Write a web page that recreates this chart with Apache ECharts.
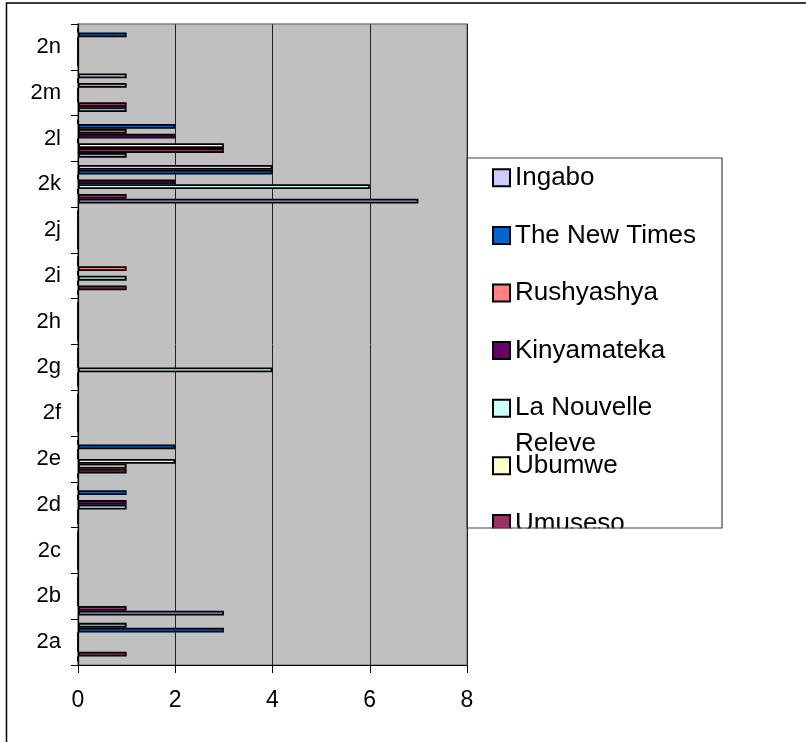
<!DOCTYPE html>
<html><head><meta charset="utf-8">
<script src="https://cdn.jsdelivr.net/npm/echarts@6/dist/echarts.min.js"></script>
<style>html,body{margin:0;padding:0;background:#fff}#c{width:806px;height:742px}</style>
</head><body><div id="c"></div>
<script>
const categories = ['2a','2b','2c','2d','2e','2f','2g','2h','2i','2j','2k','2l','2m','2n'];
const xTicks = [0, 2, 4, 6, 8];
// series values per category (2a .. 2n)
const ingabo       = [1,0,0,0,0,0,0,0,0,0,4,0,1,0];
const newTimes     = [3,0,0,1,2,0,0,0,0,0,4,2,0,1];
const rushyashya   = [0,0,0,0,0,0,0,0,1,0,0,1,1,0];
const kinyamateka  = [0,0,0,1,0,0,0,0,0,0,2,2,0,0];
const laNouvelle   = [0,0,0,1,2,0,4,0,1,0,6,0,0,0];
const ubumwe       = [0,0,0,0,1,0,0,0,0,0,0,3,0,0];
const umuseso      = [1,1,0,0,1,0,0,0,1,0,1,3,1,0];
const unnamedSeries = [0,3,0,0,0,0,0,0,0,0,7,1,1,0];

// ECharts draws the first series at the top of each group
const names  = ['Ingabo','The New Times','Rushyashya','Kinyamateka','La Nouvelle Releve','Ubumwe','Umuseso','Imvaho Nshya'];
const values = [ingabo, newTimes, rushyashya, kinyamateka, laNouvelle, ubumwe, umuseso, unnamedSeries];
const colors = ['#CCCCFF','#0066CC','#FF8080','#660066','#CCFFFF','#FFFFCC','#993366','#9999FF'];
const legendNames = ['Ingabo','The New Times','Rushyashya','Kinyamateka','La Nouvelle Releve','Ubumwe','Umuseso'];

const FONT = '"Liberation Sans", Arial, sans-serif';
const chart = echarts.init(document.getElementById('c'));
chart.setOption({
  animation: false,
  backgroundColor: '#fff',
  grid: { left: 78, right: 339, top: 24, bottom: 77, show: true, backgroundColor: '#C0C0C0', borderColor: '#808080', borderWidth: 1.5 },
  xAxis: {
    type: 'value', min: xTicks[0], max: xTicks[xTicks.length-1], interval: 2,
    axisLine: { show: true, lineStyle: { color: '#000', width: 1.2 } },
    axisTick: { show: true, length: 8, lineStyle: { color: '#000' } },
    axisLabel: { fontSize: 23, color: '#000', fontFamily: FONT, margin: 24 },
    splitLine: { show: true, lineStyle: { color: '#222', width: 1 } }
  },
  yAxis: {
    type: 'category', data: categories,
    axisLine: { show: true, lineStyle: { color: '#000', width: 1.2 } },
    axisTick: { show: true, length: 7, lineStyle: { color: '#000' } },
    axisLabel: { fontSize: 22, color: '#000', fontFamily: FONT, margin: 17 },
    splitLine: { show: false }
  },
  legend: {
    orient: 'vertical', left: 492, top: 149, padding: 0, itemGap: 0,
    itemWidth: 17, itemHeight: 17, icon: 'rect',
    data: legendNames,
    itemStyle: { borderColor: '#000', borderWidth: 2 },
    formatter: function (n) { return n === 'La Nouvelle Releve' ? 'La Nouvelle' : n; },
    textStyle: { fontSize: 26, color: '#000', fontFamily: FONT, lineHeight: 57.6 }
  },
  graphic: [
    { type: 'text', z: 50, x: 515, y: 444, style: { text: 'Releve', fontSize: 26, fontFamily: FONT, fill: '#000', verticalAlign: 'middle' } },
    { type: 'rect', z: 100, shape: { x: 468, y: 528.5, width: 256, height: 40 }, style: { fill: '#fff' } },
    { type: 'rect', z: 101, shape: { x: 467, y: 158, width: 255, height: 370 }, style: { fill: 'none', stroke: '#404040', lineWidth: 1.2 } },
    { type: 'rect', z: 101, shape: { x: 6.5, y: 3, width: 900, height: 900 }, style: { fill: 'none', stroke: '#000', lineWidth: 1.5 } }
  ],
  series: names.map((n, i) => ({
    name: n, type: 'bar', data: values[i],
    barCategoryGap: '15.8%', barGap: '0%',
    itemStyle: { color: colors[i], borderColor: '#000', borderWidth: 1.8 },
    emphasis: { disabled: true }
  }))
});
</script></body></html>
